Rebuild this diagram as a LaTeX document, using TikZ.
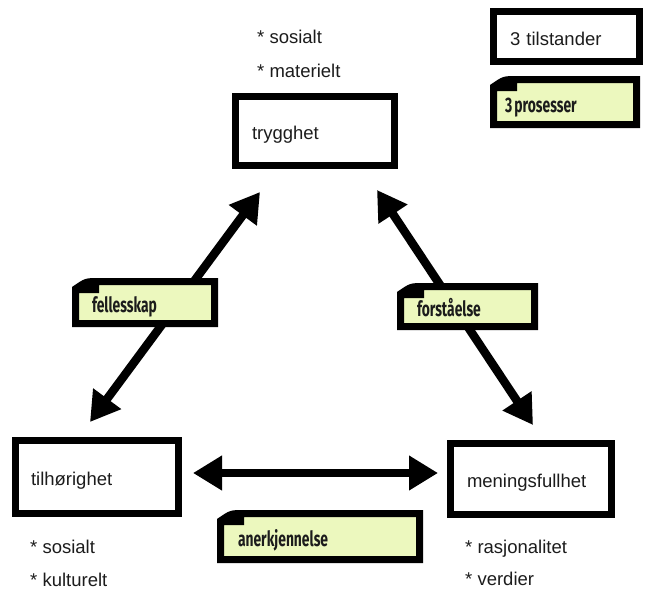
\documentclass[tikz,border=0pt]{standalone}
\usepackage{graphicx}
\usepackage{fontspec}
\setmainfont{Liberation Sans}
\newfontfamily\notefont{Fira Sans}
\usetikzlibrary{arrows.meta,calc}
\definecolor{notey}{RGB}{236,248,190}
\definecolor{ink}{RGB}{28,28,28}
\pgfdeclarelayer{bg}
\pgfsetlayers{bg,main}
\newcommand\notetxt[1]{\scalebox{0.66}[1]{\fontsize{21}{24}\notefont\bfseries #1}}
\newcommand\noteouter[1]{($(#1.north west)+(-7,2)$) .. controls ($(#1.north west)+(6,-7)$) .. ($(#1.north west)+(20,-7)$) -- ($(#1.north east)+(7,-7)$) -- ($(#1.south east)+(7,7)$) -- ($(#1.south west)+(-7,7)$) -- cycle}
\newcommand\noteframe[1]{%
  \begin{pgfonlayer}{bg}
    \fill[black!14,shift={(4,4)}] \noteouter{#1};
    \fill[black!28,shift={(2,2)}] \noteouter{#1};
  \end{pgfonlayer}
  \fill[black,even odd rule] \noteouter{#1}
    ($(#1.north west)+(0,8)$) -- ($(#1.north west)+(20,8)$) -- ($(#1.north west)+(20,0)$) -- (#1.north east) -- (#1.south east) -- (#1.south west) -- cycle;}
\newcommand\boxshadow[1]{%
  \begin{pgfonlayer}{bg}
    \fill[black!14] ($(#1.north west)+(0,0)$) rectangle ($(#1.south east)+(8,8)$);
    \fill[black!28] ($(#1.north west)+(-1.5,-1.5)$) rectangle ($(#1.south east)+(5.5,5.5)$);
  \end{pgfonlayer}}
\begin{document}
\begin{tikzpicture}[x=1pt,y=-1pt,
  txt/.style={font=\fontsize{18.5}{22}\selectfont, text=ink, inner sep=0pt},
  boxnode/.style={draw=black, line width=7pt, fill=white, txt, align=left, inner ysep=0pt, outer sep=0pt, text height=17pt, text depth=0pt},
  notenode/.style={fill=notey, inner ysep=0pt, outer sep=0pt, text height=20pt, text depth=0pt, align=left, text=ink},
  dbl/.style={line width=8.5pt, black, {Triangle[length=29pt,width=33pt]}-{Triangle[length=29pt,width=33pt]}}]
\useasboundingbox[fill=white] (0,0) rectangle (645,592);

% state boxes
\node[boxnode, minimum width=146pt, minimum height=50pt, text width=113pt, inner xsep=16.5pt] (tilst) at (566.5,36.5) {3 tilstander};
\node[boxnode, minimum width=159pt, minimum height=69pt, text width=126pt, inner xsep=16.5pt] (tryg) at (315,131) {trygghet};
\node[boxnode, minimum width=163pt, minimum height=73pt, text width=132pt, inner xsep=15.5pt] (tilh) at (97,477) {tilhørighet};
\node[boxnode, minimum width=161pt, minimum height=71pt, text width=128pt, inner xsep=16.5pt] (mening) at (531,479) {meningsfullhet};
\boxshadow{tilst}\boxshadow{tryg}\boxshadow{tilh}\boxshadow{mening}

% annotations
\node[txt, anchor=base west] (ts1) at (257,43) {* sosialt};
\node[txt, anchor=base west] (ts2) at (257,77) {* materielt};
\node[txt, anchor=base west] (hs1) at (30,553) {* sosialt};
\node[txt, anchor=base west] (hs2) at (30,586) {* kulturelt};
\node[txt, anchor=base west] (ms1) at (465,553) {* rasjonalitet};
\node[txt, anchor=base west] (ms2) at (465,585) {* verdier};

% arrows
\coordinate (a1) at (260,192);
\coordinate (b1) at (90,422);
\coordinate (a2) at (377,190);
\coordinate (b2) at (533,425);
\coordinate (a3) at (193,473);
\coordinate (b3) at (438,473);
\draw[dbl] (a1) -- (b1);
\draw[dbl] (a2) -- (b2);
\draw[dbl] (a3) -- (b3);

% process notes
\node[notenode, minimum width=136pt, minimum height=38pt, text width=120pt, inner xsep=8pt] (pros) at (565,102) {\notetxt{3 prosesser}};
\node[notenode, minimum width=132pt, minimum height=35pt, text width=106pt, inner xsep=13pt] (fell) at (145,302.5) {\notetxt{fellesskap}};
\node[notenode, minimum width=127pt, minimum height=33pt, text width=101pt, inner xsep=13pt] (forst) at (467.5,306.5) {\notetxt{forståelse}};
\node[notenode, minimum width=192pt, minimum height=39pt, text width=164pt, inner xsep=14pt] (anerk) at (320,536.5) {\notetxt{anerkjennelse}};
\noteframe{pros}\noteframe{fell}\noteframe{forst}\noteframe{anerk}
\end{tikzpicture}
\end{document}
